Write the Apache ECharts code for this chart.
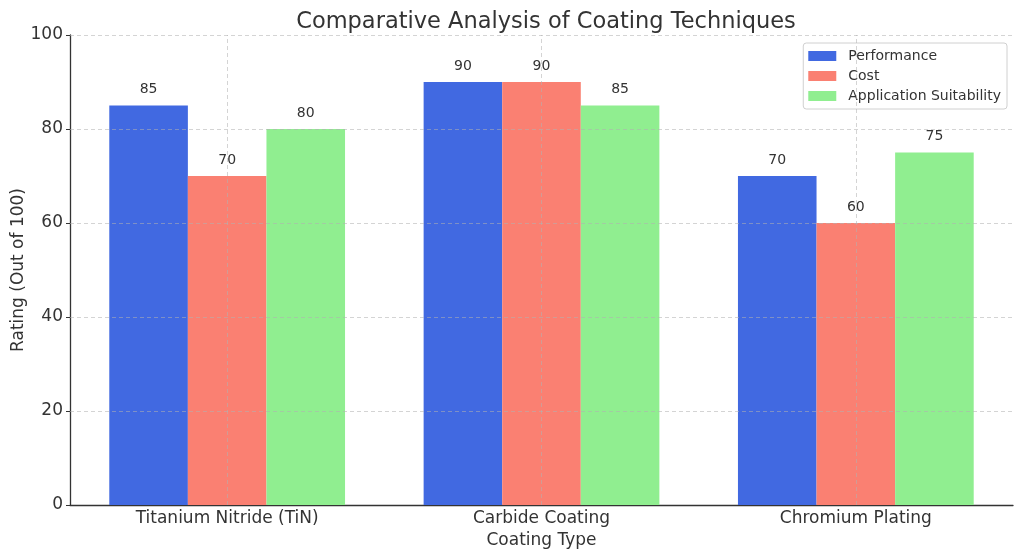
<!DOCTYPE html>
<html>
<head>
<meta charset="utf-8">
<script src="https://cdn.jsdelivr.net/npm/echarts@6/dist/echarts.min.js"></script>
<style>html,body{margin:0;padding:0;background:#fff}#c{width:1024px;height:559px}</style>
</head>
<body>
<div id="c"></div>
<script>
const categories = ['Titanium Nitride (TiN)', 'Carbide Coating', 'Chromium Plating'];
const performance = [85, 90, 70];
const cost = [70, 90, 60];
const suitability = [80, 85, 75];
const seriesNames = ['Performance', 'Cost', 'Application Suitability'];
const yTicks = [0, 20, 40, 60, 80, 100];

const FONT = 'DejaVu Sans';
const TXT = '#333333';
const gridColor = 'rgba(176,176,176,0.55)';

const chart = echarts.init(document.getElementById('c'), null, {renderer: 'canvas'});

function barSeries(name, data, color) {
  return {
    name: name,
    type: 'bar',
    data: data,
    barGap: '0%',
    barCategoryGap: '25%',
    itemStyle: {color: color},
    label: {show: true, position: 'top', distance: 9, color: TXT, fontFamily: FONT, fontSize: 14},
    z: 2
  };
}

const option = {
  animation: false,
  backgroundColor: '#fff',
  title: {
    text: 'Comparative Analysis of Coating Techniques',
    left: 541, top: 6, textAlign: 'center',
    textStyle: {fontFamily: FONT, fontSize: 22.5, fontWeight: 'normal', color: TXT}
  },
  legend: {
    orient: 'vertical',
    right: 17, top: 43,
    icon: 'rect',
    itemWidth: 28, itemHeight: 10, itemGap: 6,
    padding: [6, 6, 6, 5],
    borderColor: '#d0d0d0', borderWidth: 1, borderRadius: 3,
    backgroundColor: 'rgba(255,255,255,0.8)',
    textStyle: {fontFamily: FONT, fontSize: 14, color: TXT, padding: [0, 0, 0, 7]},
    data: seriesNames
  },
  grid: {left: 70, right: 11, top: 35, bottom: 54, containLabel: false, outerBoundsMode: 'none'},
  xAxis: {
    type: 'category',
    data: categories,
    name: 'Coating Type', nameLocation: 'middle', nameGap: 27, nameMoveOverlap: false,
    nameTextStyle: {fontFamily: FONT, fontSize: 17, color: TXT},
    axisLine: {show: true, lineStyle: {color: '#333', width: 1.3}},
    axisTick: {show: true, alignWithLabel: true, inside: true, length: 5, lineStyle: {color: '#333'}},
    axisLabel: {fontFamily: FONT, fontSize: 17, color: TXT, margin: 5},
    splitLine: {show: false}
  },
  yAxis: {
    type: 'value', min: 0, max: 100, interval: 20,
    name: 'Rating (Out of 100)', nameLocation: 'middle', nameGap: 43, nameRotate: 90, nameMoveOverlap: false,
    nameTextStyle: {fontFamily: FONT, fontSize: 17, color: TXT},
    axisLine: {show: true, lineStyle: {color: '#333', width: 1.3}},
    axisTick: {show: true, inside: false, length: 4, lineStyle: {color: '#333'}},
    axisLabel: {fontFamily: FONT, fontSize: 17, color: TXT, margin: 7,
      formatter: v => yTicks.includes(v) ? String(v) : ''},
    splitLine: {show: false}
  },
  series: [
    barSeries(seriesNames[0], performance, '#4169E1'),
    barSeries(seriesNames[1], cost, '#FA8072'),
    barSeries(seriesNames[2], suitability, '#90EE90'),
    {
      name: 'grid', type: 'line', data: [], z: 5, silent: true,
      markLine: {
        silent: true, symbol: 'none', label: {show: false},
        lineStyle: {color: gridColor, type: [4, 3], width: 1},
        data: categories.map(c => ({xAxis: c})).concat(yTicks.filter(t => t > 0).map(t => ({yAxis: t})))
      }
    }
  ]
};
chart.setOption(option);
</script>
</body>
</html>
